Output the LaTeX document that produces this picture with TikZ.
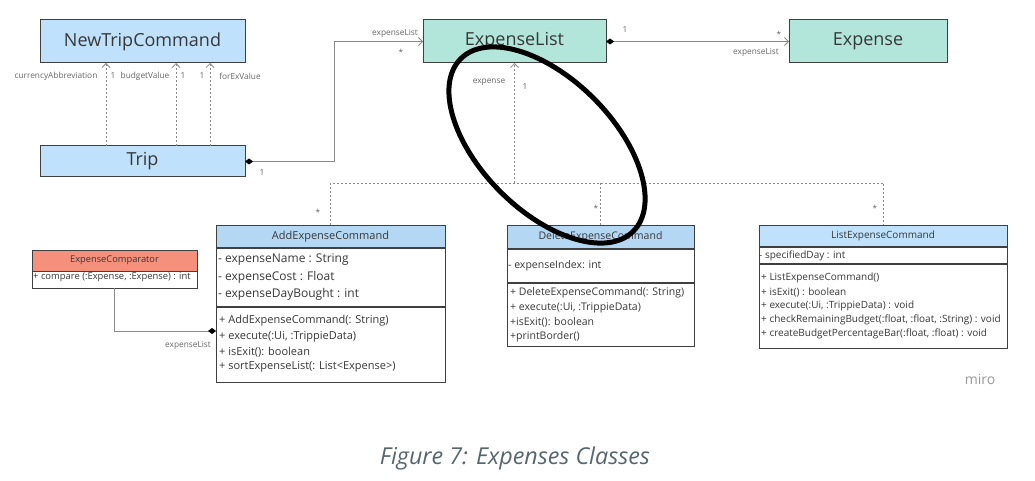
\documentclass[tikz,border=0pt]{standalone}
\usepackage{fontspec}
\setmainfont{Open Sans}
\usetikzlibrary{arrows.meta}
\definecolor{tblue}{HTML}{BFE1FB}
\definecolor{hblue}{HTML}{B4D8F3}
\definecolor{mint}{HTML}{B3E6DA}
\definecolor{salmon}{HTML}{F4907C}
\definecolor{bord}{HTML}{404040}
\definecolor{txt}{HTML}{383838}
\definecolor{lgray}{HTML}{8A8A8A}
\definecolor{lbl}{HTML}{666666}
\definecolor{capc}{HTML}{56666F}
\newcommand\fsz[1]{\fontsize{#1pt}{#1pt}\selectfont}
\begin{document}
\begin{tikzpicture}[x=1pt,y=-1pt,
 box/.style={draw=bord, line width=1pt, anchor=north west, inner sep=0pt, outer sep=0pt},
 title/.style={font=\fsz{18}, text=txt},
 row/.style={anchor=west, inner sep=0pt, text=txt},
 lab/.style={font=\fsz{8.3}, text=lbl, inner sep=0pt},
 assoc/.style={draw=lgray, line width=0.8pt},
 dep/.style={draw=lgray, line width=0.8pt, dash pattern=on 2pt off 2pt},
 sep/.style={draw=bord, line width=2pt},
 barb/.tip={Straight Barb[length=4pt,width=8pt]},
 dia/.tip={Diamond[length=8pt,width=6pt,color=black,fill=black]},
]
\useasboundingbox (0,0) rectangle (1035,481);

% top boxes
\node[box, fill=tblue, minimum width=205pt, minimum height=43pt, title] (ntc) at (40,20) {NewTripCommand};
\node[box, fill=tblue, minimum width=205pt, minimum height=31pt, title] (trip) at (40,146) {Trip};
\node[box, fill=mint, minimum width=183pt, minimum height=43pt, title] (elist) at (423,20) {ExpenseList};
\node[box, fill=mint, minimum width=158pt, minimum height=43pt, title] (exp) at (789,20) {Expense};

% ExpenseComparator
\node[box, fill=white, minimum width=165pt, minimum height=38pt] (cmp) at (32,250) {};
\node[box, fill=salmon, minimum width=165pt, minimum height=21pt, font=\fsz{9.3}, text=txt] (cmph) at (32,250) {ExpenseComparator};
\node[row, font=\fsz{9.4}] (cmp1) at (33,277) {+ compare (:Expense, :Expense) : int};

% AddExpenseCommand
\node[box, fill=white, minimum width=229pt, minimum height=157pt] (add) at (216,225) {};
\node[box, fill=hblue, minimum width=229pt, minimum height=23pt, font=\fsz{11}, text=txt] (addh) at (216,225) {AddExpenseCommand};
\draw[sep] (216,248) -- (445,248);
\draw[sep] (216,307) -- (445,307);
\node[row, font=\fsz{12}] (a1) at (218,260) {- expenseName : String};
\node[row, font=\fsz{12}] (a2) at (218,277) {- expenseCost : Float};
\node[row, font=\fsz{12}] (a3) at (218,294) {- expenseDayBought : int};
\node[row, font=\fsz{11}] (a4) at (219,321) {+ AddExpenseCommand(: String)};
\node[row, font=\fsz{11}] (a5) at (219,337) {+ execute(:Ui, :TrippieData)};
\node[row, font=\fsz{11}] (a6) at (219,352) {+ isExit(): boolean};
\node[row, font=\fsz{11}] (a7) at (219,367) {+ sortExpenseList(: List<Expense>)};

% DeleteExpenseCommand
\node[box, fill=white, minimum width=187pt, minimum height=121pt] (del) at (507,225) {};
\node[box, fill=hblue, minimum width=187pt, minimum height=24pt, font=\fsz{10.5}, text=txt] (delh) at (507,225) {DeleteExpenseCommand};
\draw[sep, line width=1.5pt] (507,249) -- (694,249);
\draw[sep, line width=1.2pt] (507,283) -- (694,283);
\node[row, font=\fsz{10.5}] (d1) at (508,266) {- expenseIndex: int};
\node[row, font=\fsz{10.5}] (d2) at (510,293) {+ DeleteExpenseCommand(: String)};
\node[row, font=\fsz{10.5}] (d3) at (510,308) {+ execute(:Ui, :TrippieData)};
\node[row, font=\fsz{10.5}] (d4) at (510,322) {+isExit(): boolean};
\node[row, font=\fsz{10.5}] (d5) at (510,337) {+printBorder()};

% ListExpenseCommand
\node[box, fill=white, minimum width=248pt, minimum height=123pt] (lst) at (759,225) {};
\node[box, fill=tblue, minimum width=248pt, minimum height=22pt, font=\fsz{10}, text=txt] (lsth) at (759,225) {ListExpenseCommand};
\draw[sep] (759,247) -- (1007,247);
\draw[sep] (759,264) -- (1007,264);
\node[row, font=\fsz{10}] (l1) at (759,256) {- specifiedDay : int};
\node[row, font=\fsz{10}] (l2) at (761,278) {+ ListExpenseCommand()};
\node[row, font=\fsz{10}] (l3) at (761,292) {+ isExit() : boolean};
\node[row, font=\fsz{10}] (l4) at (761,306) {+ execute(:Ui, :TrippieData) : void};
\node[row, font=\fsz{10}] (l5) at (761,320) {+ checkRemainingBudget(:float, :float, :String) : void};
\node[row, font=\fsz{10}] (l6) at (761,334) {+ createBudgetPercentageBar(:float, :float) : void};

% associations
\draw[assoc, dia-barb] (trip.east) -- ++(89,0) |- (elist.west);
\draw[assoc, dia-barb] (elist.east) -- (exp.west);
\draw[assoc, -dia] (cmp.south) |- (add.west |- 0,331);

% dependencies Trip -> NewTripCommand
\draw[dep, -barb] (trip.north -| 106,0) -- (ntc.south -| 106,0);
\draw[dep, -barb] (trip.north -| 176,0) -- (ntc.south -| 176,0);
\draw[dep, -barb] (trip.north -| 210,0) -- (ntc.south -| 210,0);

% dependency tree
\coordinate (jl) at (addh.north |- 0,183);
\coordinate (jr) at (lsth.north |- 0,183);
\draw[dep] (addh.north) -- (jl) -- (jr) -- (lsth.north);
\draw[dep] (delh.north) -- (delh.north |- jl);
\draw[dep, -barb] (elist.south |- jl) -- (elist.south);

% labels
\node[lab] (t1) at (56,76) {currencyAbbreviation};
\node[lab] (t2) at (113,76) {1};
\node[lab] (t3) at (145,76) {budgetValue};
\node[lab] (t4) at (183,76) {1};
\node[lab] (t5) at (202,76) {1};
\node[lab] (t6) at (240,76) {forExValue};
\node[lab] (t7) at (262,173) {1};
\node[lab] (t8) at (395,33) {expenseList};
\node[lab] (t9) at (401,52) {*};
\node[lab] (t10) at (625,30) {1};
\node[lab] (t11) at (779,34) {*};
\node[lab] (t12) at (756,52) {expenseList};
\node[lab] (t13) at (489,82) {expense};
\node[lab] (t14) at (525,87) {1};
\node[lab] (t15) at (318,212) {*};
\node[lab] (t16) at (596,208) {*};
\node[lab] (t17) at (875,208) {*};
\node[lab] (t18) at (188,345) {expenseList};

\node[font=\fsz{14}, text=black!40, inner sep=0pt] (miro) at (980,379) {miro};

% hand-drawn ellipse
\draw[line width=5pt, rotate around={-45:(547,145)}] (547,145) ellipse [x radius=122pt, y radius=66pt];

% caption
\node[font=\fsz{23.3}\itshape, text=capc, inner sep=0pt] (cap) at (515,458) {Figure 7: Expenses Classes};
\end{tikzpicture}
\end{document}
